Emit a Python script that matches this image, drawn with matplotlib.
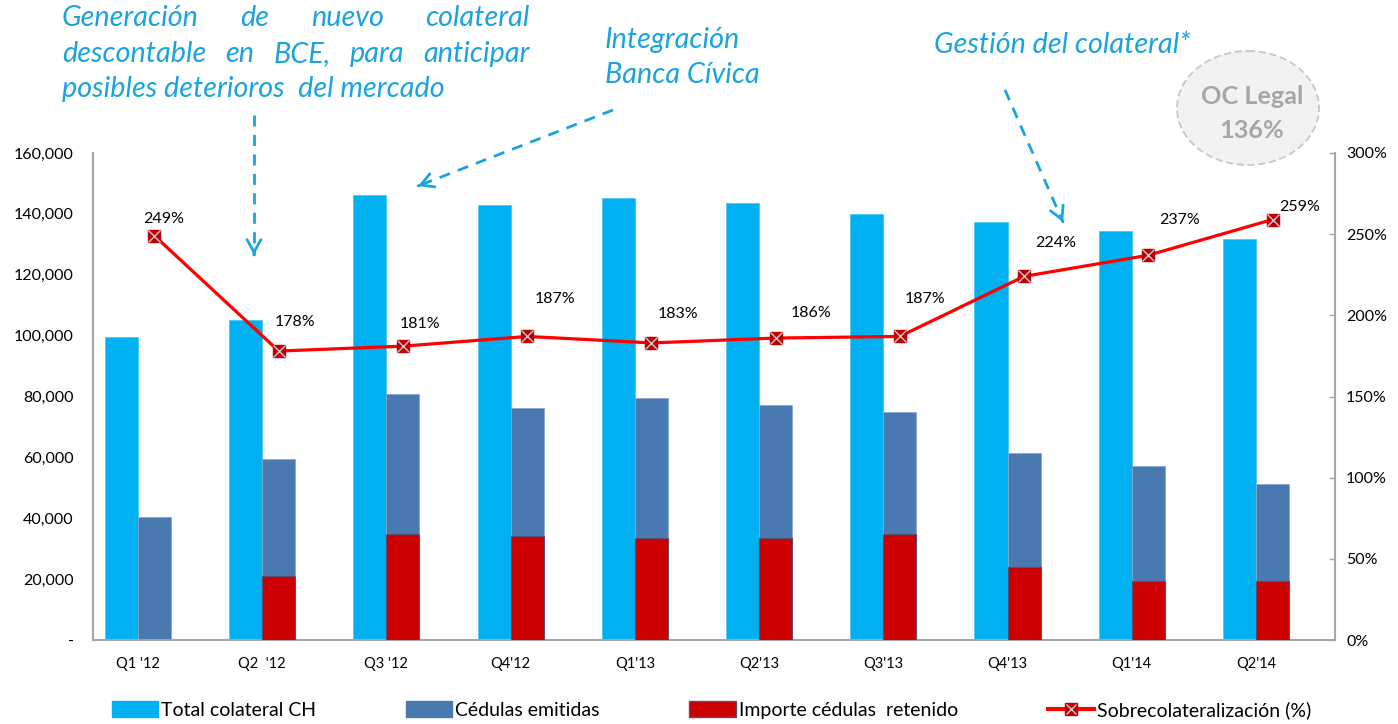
import numpy as np
import matplotlib.pyplot as plt
from matplotlib.patches import Patch, Ellipse
from matplotlib.lines import Line2D
from matplotlib.ticker import FuncFormatter

plt.rcParams['font.family'] = ['Lato', 'DejaVu Sans']

# data
quarters = ["Q1 '12", "Q2  '12", "Q3 '12", "Q4'12", "Q1'13",
            "Q2'13", "Q3'13", "Q4'13", "Q1'14", "Q2'14"]
total_colateral = [99500, 105100, 146200, 142900, 145200, 143600, 140000, 137300, 134400, 131700]
cedulas_emitidas = [40400, 59500, 80800, 76200, 79500, 77200, 74900, 61400, 57200, 51300]
importe_retenido = [0, 21000, 34800, 34200, 33500, 33500, 34800, 24000, 19400, 19400]
sobrecolat = [249, 178, 181, 187, 183, 186, 187, 224, 237, 259]

# label offsets (pixels) from each marker
lab_off = [(9, 17), (16, 29), (17, 22), (28, 37), (27, 29),
           (35, 25), (25, 37), (32, 33), (31, 35), (27, 13)]

c_light = '#00B0F0'
c_dark = '#4A78B1'
c_red = '#CC0000'
c_txt = '#1AA3DF'
c_spine = '#A6A6A6'

W, H = 1398, 724
fig = plt.figure(figsize=(W / 100, H / 100), dpi=100)
ax = fig.add_axes([93 / W, 1 - 640 / H, (1335 - 93) / W, (640 - 153) / H])
x = np.arange(len(quarters))
bw = 0.266

ax.bar(x - bw / 2, total_colateral, bw, color=c_light, edgecolor='#4FC8F5', linewidth=0.6, zorder=2)
ax.bar(x + bw / 2, cedulas_emitidas, bw, color=c_dark, edgecolor='#8AA6CC', linewidth=0.6, zorder=2)
ax.bar(x + bw / 2, importe_retenido, bw, color=c_red, edgecolor='#5B4F72', linewidth=0.8, zorder=3)

ax.set_xlim(-0.362, len(quarters) - 0.364)
ax.set_ylim(0, 160000)
ax.set_yticks(np.arange(0, 160001, 20000))
ax.yaxis.set_major_formatter(FuncFormatter(lambda v, p: '-' if v == 0 else f'{int(v):,}'))
ax.set_xticks(x)
ax.set_xticklabels(quarters)
ax.tick_params(axis='y', length=0, pad=14, labelsize=11.5, colors='black')
ax.tick_params(axis='x', length=0, pad=12, labelsize=10.5)
for s in ['top', 'right']:
    ax.spines[s].set_visible(False)
for s in ['left', 'bottom']:
    ax.spines[s].set_color(c_spine)
    ax.spines[s].set_linewidth(1.5)

ax2 = ax.twinx()
ax2.set_ylim(0, 300)
ax2.set_yticks(np.arange(0, 301, 50))
ax2.yaxis.set_major_formatter(FuncFormatter(lambda v, p: f'{int(v)}%'))
ax2.tick_params(axis='y', direction='in', length=4, width=1, color=c_spine, pad=8, labelsize=11.5)
for s in ['top', 'left', 'bottom']:
    ax2.spines[s].set_visible(False)
ax2.spines['right'].set_color(c_spine)
ax2.spines['right'].set_linewidth(1.5)

xl = x + bw / 2
ax2.plot(xl, sobrecolat, color='#FF0000', lw=2.3, zorder=4)
ax2.plot(xl, sobrecolat, ls='none', marker='s', ms=9, mfc='#C00000', mec='#C00000', zorder=5)
ax2.plot(xl, sobrecolat, ls='none', marker='x', ms=8, mew=1, mec='#C9C9D6', zorder=6)
for xi, v, (dx, dy) in zip(xl, sobrecolat, lab_off):
    ax2.annotate(f'{v}%', (xi, v), xytext=(dx * 0.72, dy * 0.72), textcoords='offset points',
                 ha='center', va='center', fontsize=11.5)

# overlay in pixel coordinates for the annotations
ov = fig.add_axes([0, 0, 1, 1], zorder=10)
ov.set_xlim(0, W)
ov.set_ylim(H, 0)
ov.axis('off')
ov.patch.set_visible(False)

fig.canvas.draw()
rend = fig.canvas.get_renderer()


def justified(words, x0, x1, y, fs):
    ts = [ov.text(0, y, w, fontsize=fs, style='italic', color=c_txt, va='center', ha='left') for w in words]
    widths = [t.get_window_extent(rend).width for t in ts]
    gap = (x1 - x0 - sum(widths)) / (len(words) - 1)
    pos = x0
    for t, w in zip(ts, widths):
        t.set_x(pos)
        pos += w + gap


fs_big = 20.7
justified(['Generación', 'de', 'nuevo', 'colateral'], 62, 530, 18, fs_big)
justified(['descontable', 'en', 'BCE,', 'para', 'anticipar'], 62, 530, 54, fs_big)
ov.text(62, 89, 'posibles deterioros  del mercado', fontsize=fs_big, style='italic',
        color=c_txt, va='center', ha='left')
ov.text(605, 40, 'Integración', fontsize=fs_big, style='italic', color=c_txt, va='center')
ov.text(605, 75, 'Banca Cívica', fontsize=fs_big, style='italic', color=c_txt, va='center')
ov.text(934, 45, 'Gestión del colateral*', fontsize=fs_big, style='italic', color=c_txt, va='center')


def dashed_arrow(x0, y0, x1, y1):
    ov.plot([x0, x1], [y0, y1], color=c_txt, lw=2, ls=(0, (4, 3)))
    d = np.array([x1 - x0, y1 - y0], float)
    d /= np.hypot(*d)
    ov.annotate('', xy=(x1, y1), xytext=(x1 - d[0] * 3, y1 - d[1] * 3),
                arrowprops=dict(arrowstyle='->,head_length=0.9,head_width=0.5', color=c_txt, lw=2))


dashed_arrow(254, 115, 254, 255)
dashed_arrow(613, 110, 418, 186)
dashed_arrow(1005, 90, 1063, 222)

ov.add_patch(Ellipse((1248, 108), 142, 114, facecolor='#F2F2F2', edgecolor='#C8C8C8',
                     lw=1.3, ls=(0, (4, 2))))
ov.text(1252, 97, 'OC Legal', fontsize=18.2, fontweight='bold', color='#A6A6A6',
        ha='center', va='center')
ov.text(1252, 130, '136%', fontsize=18.2, fontweight='bold', color='#A6A6A6',
        ha='center', va='center')

handles = [Patch(color=c_light), Patch(color=c_dark), Patch(facecolor=c_red, edgecolor='#5B4F72'),
           (Line2D([], [], color='#FF0000', lw=3, marker='s', ms=8, mfc='#C00000', mec='#C00000'),
            Line2D([], [], ls='none', marker='x', ms=7, mec='#C9C9D6'))]
labels = ['Total colateral CH', 'Cédulas emitidas', 'Importe cédulas  retenido', 'Sobrecolateralización (%)']
fig.legend(handles, labels, loc='center', bbox_to_anchor=(0.509, 1 - 710 / H), ncol=4, frameon=False,
           fontsize=14, handlelength=2.4, handleheight=0.9, handletextpad=0.15, columnspacing=4.6)

fig.savefig('out.png', dpi=100)
